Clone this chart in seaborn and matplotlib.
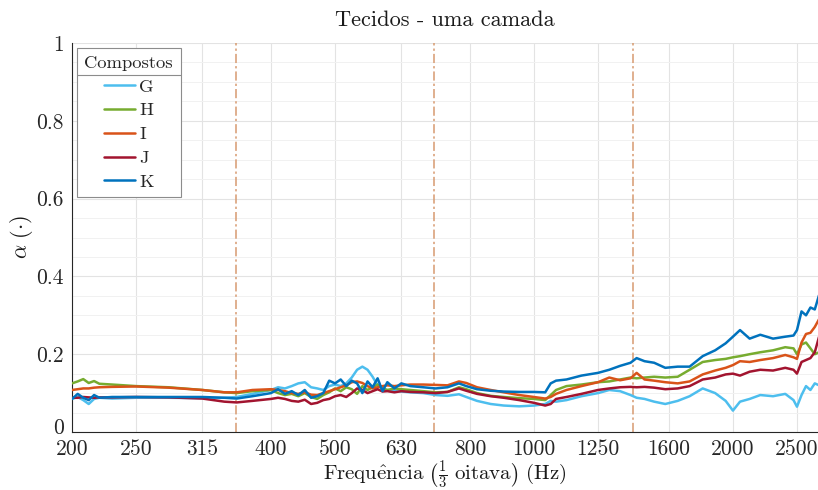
import numpy as np
import pandas as pd
import matplotlib
matplotlib.use("Agg")
import matplotlib.pyplot as plt
import seaborn as sns
from matplotlib.lines import Line2D
from matplotlib.ticker import FixedLocator, MultipleLocator, NullLocator
from matplotlib.transforms import ScaledTranslation

# Frequency samples (Hz)
freq = [200, 204, 208, 212, 216, 220, 230, 250, 280, 315, 340, 355, 375, 400,
        410, 420, 430, 440, 450, 460, 470, 480, 490, 500, 510, 520, 530, 540,
        550, 560, 570, 580, 590, 600, 615, 630, 650, 680, 710, 740, 770, 790,
        820, 860, 900, 950, 1000, 1040, 1060, 1080, 1120, 1180, 1250, 1300,
        1350, 1400, 1430, 1470, 1520, 1580, 1650, 1720, 1800, 1880, 1950, 2000,
        2050, 2120, 2200, 2300, 2400, 2470, 2500, 2540, 2580, 2620, 2660, 2700]

# Absorption coefficient per composite
alpha_G = [0.085, 0.090, 0.082, 0.072, 0.085, 0.088, 0.086, 0.088, 0.088, 0.087,
           0.088, 0.090, 0.098, 0.108, 0.115, 0.112, 0.118, 0.125, 0.128, 0.115,
           0.112, 0.108, 0.118, 0.122, 0.118, 0.125, 0.140, 0.160, 0.168, 0.160,
           0.142, 0.120, 0.110, 0.108, 0.105, 0.104, 0.102, 0.100, 0.095, 0.093,
           0.097, 0.090, 0.080, 0.072, 0.068, 0.066, 0.068, 0.072, 0.080, 0.078,
           0.082, 0.092, 0.100, 0.108, 0.105, 0.095, 0.088, 0.085, 0.078, 0.072,
           0.080, 0.092, 0.112, 0.100, 0.080, 0.055, 0.078, 0.085, 0.095, 0.092,
           0.098, 0.082, 0.065, 0.095, 0.118, 0.108, 0.125, 0.120]
alpha_H = [0.125, 0.130, 0.136, 0.126, 0.131, 0.124, 0.122, 0.118, 0.115, 0.108,
           0.102, 0.100, 0.105, 0.108, 0.100, 0.095, 0.098, 0.092, 0.100, 0.090,
           0.085, 0.095, 0.102, 0.112, 0.105, 0.115, 0.110, 0.098, 0.118, 0.108,
           0.115, 0.122, 0.112, 0.108, 0.112, 0.110, 0.108, 0.105, 0.102, 0.103,
           0.115, 0.110, 0.100, 0.093, 0.090, 0.087, 0.085, 0.082, 0.095, 0.108,
           0.118, 0.122, 0.128, 0.130, 0.135, 0.140, 0.138, 0.140, 0.142, 0.140,
           0.142, 0.160, 0.180, 0.185, 0.188, 0.192, 0.195, 0.200, 0.205, 0.210,
           0.218, 0.215, 0.200, 0.225, 0.230, 0.215, 0.200, 0.205]
alpha_I = [0.108, 0.110, 0.112, 0.112, 0.114, 0.115, 0.116, 0.117, 0.114, 0.108,
           0.102, 0.102, 0.108, 0.110, 0.108, 0.105, 0.100, 0.098, 0.102, 0.096,
           0.095, 0.100, 0.105, 0.110, 0.115, 0.120, 0.128, 0.130, 0.126, 0.118,
           0.112, 0.115, 0.118, 0.120, 0.118, 0.120, 0.122, 0.122, 0.121, 0.120,
           0.130, 0.126, 0.115, 0.108, 0.102, 0.095, 0.090, 0.086, 0.090, 0.098,
           0.108, 0.118, 0.128, 0.140, 0.133, 0.138, 0.152, 0.135, 0.132, 0.128,
           0.125, 0.130, 0.148, 0.158, 0.165, 0.172, 0.182, 0.180, 0.185, 0.190,
           0.198, 0.192, 0.188, 0.230, 0.252, 0.255, 0.270, 0.290]
alpha_J = [0.088, 0.088, 0.090, 0.089, 0.088, 0.089, 0.089, 0.090, 0.089, 0.086,
           0.078, 0.076, 0.080, 0.085, 0.088, 0.085, 0.080, 0.078, 0.083, 0.072,
           0.075, 0.082, 0.085, 0.092, 0.095, 0.090, 0.100, 0.112, 0.108, 0.100,
           0.105, 0.110, 0.104, 0.105, 0.102, 0.105, 0.103, 0.102, 0.100, 0.103,
           0.112, 0.106, 0.098, 0.092, 0.088, 0.082, 0.075, 0.068, 0.072, 0.085,
           0.090, 0.098, 0.108, 0.112, 0.115, 0.116, 0.115, 0.116, 0.114, 0.110,
           0.112, 0.118, 0.135, 0.140, 0.148, 0.150, 0.145, 0.155, 0.160, 0.158,
           0.165, 0.160, 0.150, 0.180, 0.185, 0.190, 0.205, 0.245]
alpha_K = [0.085, 0.098, 0.088, 0.082, 0.095, 0.088, 0.090, 0.090, 0.090, 0.090,
           0.088, 0.086, 0.092, 0.100, 0.110, 0.098, 0.105, 0.095, 0.108, 0.088,
           0.092, 0.100, 0.132, 0.125, 0.135, 0.118, 0.132, 0.125, 0.100, 0.130,
           0.115, 0.138, 0.105, 0.128, 0.112, 0.125, 0.118, 0.115, 0.112, 0.115,
           0.125, 0.118, 0.110, 0.106, 0.104, 0.103, 0.103, 0.102, 0.125, 0.132,
           0.135, 0.145, 0.152, 0.160, 0.170, 0.178, 0.190, 0.182, 0.178, 0.165,
           0.168, 0.168, 0.195, 0.210, 0.228, 0.245, 0.262, 0.240, 0.250, 0.240,
           0.245, 0.248, 0.262, 0.310, 0.300, 0.320, 0.315, 0.352]

compostos = ["G", "H", "I", "J", "K"]
cores = ["#4DBEEE", "#77AC30", "#D95319", "#A2142F", "#0072BD"]

xticks = [200, 250, 315, 400, 500, 630, 800, 1000, 1250, 1600, 2000, 2500]
xtick_labels = ["200", "250", "315", "400", "500", "630", "800", "1000",
                "1250", "1600", "2000", "2500"]
yticks = [0, 0.2, 0.4, 0.6, 0.8, 1.0]
ytick_labels = ["0", "0.2", "0.4", "0.6", "0.8", "1"]
limites_oitava = [353.6, 707.1, 1414.2]

sns.set_style("white")
plt.rcParams["font.family"] = ["cmr10", "DejaVu Serif"]
plt.rcParams["mathtext.fontset"] = "cm"
plt.rcParams["axes.formatter.use_mathtext"] = True

series = [alpha_G, alpha_H, alpha_I, alpha_J, alpha_K]
df = pd.DataFrame({
    "freq": freq * len(compostos),
    "alpha": sum(series, []),
    "Composto": np.repeat(compostos, len(freq)),
})

fig = plt.figure(figsize=(8.18, 4.90), dpi=100)
ax = fig.add_axes([72 / 818, 1 - 432 / 490, (818 - 72) / 818, (432 - 43) / 490])

sns.lineplot(data=df, x="freq", y="alpha", hue="Composto",
             palette=dict(zip(compostos, cores)), linewidth=1.8,
             estimator=None, sort=False, ax=ax, zorder=3)

for f in limites_oitava:
    ax.axvline(f, color="#D79A70", linewidth=1.1,
               linestyle=(0, (6, 2, 1.5, 2)), zorder=2)

ax.set_xscale("log")
ax.set_xlim(200, 2690)
ax.set_ylim(0, 1)
ax.xaxis.set_major_locator(FixedLocator(xticks))
ax.xaxis.set_minor_locator(NullLocator())
ax.set_xticks(xticks)
ax.set_xticklabels(xtick_labels)
ax.set_yticks(yticks)
ax.set_yticklabels(ytick_labels)
ax.yaxis.set_minor_locator(MultipleLocator(0.05))

ax.set_axisbelow(True)
ax.grid(which="major", color="#E3E3E3", linewidth=0.8)
ax.grid(which="minor", axis="y", color="#F1F1F1", linewidth=0.7)

for s in ["top", "right"]:
    ax.spines[s].set_visible(False)
for s in ["left", "bottom"]:
    ax.spines[s].set_color("#262626")
    ax.spines[s].set_linewidth(0.8)

ax.tick_params(which="major", direction="in", length=4, width=0.7,
               colors="#262626", labelsize=15.5)
ax.tick_params(which="minor", direction="in", length=2.5, width=0.6,
               colors="#262626")
ax.tick_params(axis="x", pad=5.6)
ax.tick_params(axis="y", pad=6)

ax.set_title("Tecidos - uma camada", fontsize=16, pad=12, color="#1a1a1a")
ax.set_xlabel(r"$\mathrm{Frequ\hat{e}ncia}\ \left(\frac{1}{3}\ \mathrm{oitava}\right)\ (\mathrm{Hz})$",
              fontsize=15, labelpad=-0.5, color="#1a1a1a")
ax.set_ylabel(r"$\alpha\ (\cdot)$", fontsize=16, labelpad=1, color="#1a1a1a")

handles = [Line2D([0], [0], color=c, linewidth=1.8) for c in cores]
leg = ax.legend(handles, compostos, title="Compostos", loc="upper left",
                bbox_to_anchor=(5 / 746, 1 - 5 / 389), borderaxespad=0,
                frameon=True, fancybox=False, framealpha=1,
                edgecolor="#8c8c8c", fontsize=13.4, title_fontsize=13.4,
                handlelength=1.7, handletextpad=0.2, labelspacing=0.42,
                borderpad=0.4, alignment="center")
leg.get_frame().set_linewidth(0.8)

# nudge the "0" label up so it clears the "200" label beneath it
zero_label = ax.yaxis.get_major_ticks()[0].label1
zero_label.set_transform(zero_label.get_transform()
                         + ScaledTranslation(0, 4 / 72, fig.dpi_scale_trans))

# separator between the legend title and its entries
fig.canvas.draw()
renderer = fig.canvas.get_renderer()
fb = leg.get_frame().get_window_extent(renderer)
tb = leg.get_title().get_window_extent(renderer)
ysep = tb.y0 - 4
inv = fig.transFigure.inverted()
(x0, y0), (x1, _) = inv.transform([(fb.x0, ysep), (fb.x1, ysep)])
fig.add_artist(Line2D([x0, x1], [y0, y0], transform=fig.transFigure,
                      color="#8c8c8c", linewidth=0.8, zorder=10))

fig.savefig("out.png", dpi=100)
